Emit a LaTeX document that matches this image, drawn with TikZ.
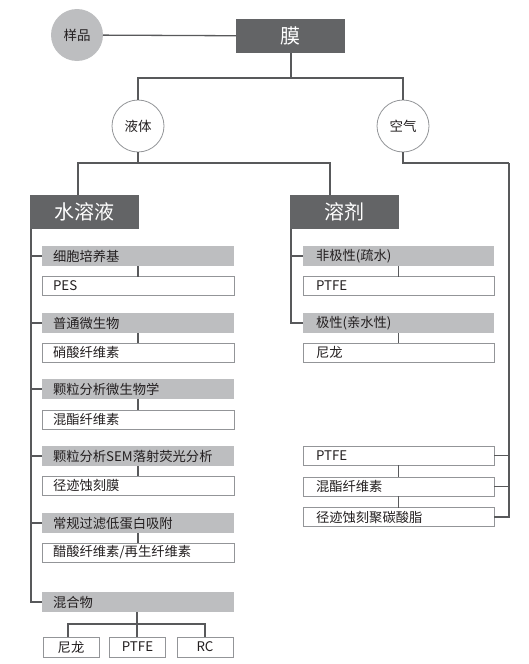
\documentclass[tikz,border=0pt]{standalone}
\usepackage{fontspec}
\setmainfont{Noto Sans CJK SC}
\usetikzlibrary{calc}
\definecolor{darkbox}{HTML}{636466}
\definecolor{bargray}{HTML}{BDBEC0}
\definecolor{linegray}{HTML}{58595B}
\definecolor{bordergray}{HTML}{939598}
\definecolor{textdark}{HTML}{231F20}
\tikzset{
  headbox/.style={fill=darkbox, text=white, minimum width=109pt, minimum height=34pt, inner sep=0pt, outer sep=0pt, anchor=north west, font=\fontsize{20}{20}\selectfont},
  roundnode/.style={circle, minimum size=52pt, inner sep=0pt, outer sep=0pt, font=\fontsize{13.5}{13.5}\selectfont, text=textdark},
  leftbar/.style={fill=bargray, minimum height=20pt, inner ysep=0pt, inner xsep=11pt, text width=170pt, align=left, anchor=north west, outer sep=0pt, text=textdark, font=\fontsize{13.3}{13.3}\selectfont},
  leftbox/.style={leftbar, fill=white, draw=bordergray, line width=0.8pt, minimum height=19pt},
  rightbar/.style={leftbar, inner xsep=13pt, text width=165pt},
  rightbox/.style={rightbar, fill=white, draw=bordergray, line width=0.8pt, minimum height=19pt},
  smallbox/.style={fill=white, draw=bordergray, line width=0.8pt, minimum width=56pt, minimum height=20pt, inner sep=0pt, outer sep=0pt, anchor=north west, text=textdark, font=\fontsize{13.3}{13.3}\selectfont},
  link/.style={draw=linegray, line width=1.3pt},
  trunk/.style={draw=linegray, line width=1.8pt}
}
\begin{document}
\begin{tikzpicture}[x=1pt, y=-1pt]
\useasboundingbox (0,0) rectangle (528,664);
% top
\node[roundnode, fill=bargray] (sample) at (77,35) {样品};
\node[headbox] (mo) at (236,19) {膜};
\node[roundnode, draw=bordergray, line width=0.8pt, fill=white] (liquid) at (138,126) {液体};
\node[roundnode, draw=bordergray, line width=0.8pt, fill=white] (air) at (403,126) {空气};
\node[headbox] (aq) at (30,195) {水溶液};
\node[headbox] (sol) at (290,195) {溶剂};
\coordinate (j1) at (291,78);
\coordinate (j2) at (138,163);
\coordinate (airtr) at (509,163);
% left column
\node[leftbar] (b1) at (42,246) {细胞培养基};
\node[leftbox] (p1) at (42,276.5) {PES};
\node[leftbar] (b2) at (42,313) {普通微生物};
\node[leftbox] (p2) at (42,343) {硝酸纤维素};
\node[leftbar] (b3) at (42,379) {颗粒分析微生物学};
\node[leftbox] (p3) at (42,410) {混酯纤维素};
\node[leftbar] (b4) at (42,446) {颗粒分析SEM落射荧光分析};
\node[leftbox] (p4) at (42,476) {径迹蚀刻膜};
\node[leftbar] (b5) at (42,513) {常规过滤低蛋白吸附};
\node[leftbox] (p5) at (42,543) {醋酸纤维素/再生纤维素};
\node[leftbar] (b6) at (42,592) {混合物};
\node[smallbox] (m1) at (43,637) {尼龙};
\node[smallbox] (m2) at (109.5,637) {PTFE};
\node[smallbox] (m3) at (177,637) {RC};
\coordinate (j3) at (137,624);
% solvent column
\node[rightbar] (s1) at (303,246) {非极性(疏水)};
\node[rightbox] (q1) at (303,276.5) {PTFE};
\node[rightbar] (s2) at (303,313) {极性(亲水性)};
\node[rightbox] (q2) at (303,343) {尼龙};
% air column
\node[rightbox] (a1) at (303,446) {PTFE};
\node[rightbox] (a2) at (303,477) {混酯纤维素};
\node[rightbox] (a3) at (303,507.5) {径迹蚀刻聚碳酸脂};
% connectors top
\draw[link] (sample) -- (mo);
\draw[link] (mo.south -| j1) -- (j1);
\draw[link] (liquid.north) |- (j1) -| (air.north);
\draw[link] (liquid.south) -- (j2);
\draw[link] ([xshift=-6.5pt]aq.north) |- (j2) -| ([xshift=-14.5pt]sol.north);
\draw[link] (air.south) |- (airtr);
\draw[trunk] (airtr) |- (a3.east);
\draw[link] (airtr |- a1.east) -- (a1.east);
\draw[link] (airtr |- a2.east) -- (a2.east);
\draw[link] (a1.south) -- (a2.north);
\draw[link] (a2.south) -- (a3.north);
% left trunk
\draw[trunk] ([xshift=1pt]aq.south west) |- (b6.west);
\draw[link] ([xshift=1pt]aq.south west |- b1.west) -- (b1.west);
\draw[link] ([xshift=1pt]aq.south west |- b2.west) -- (b2.west);
\draw[link] ([xshift=1pt]aq.south west |- b3.west) -- (b3.west);
\draw[link] ([xshift=1pt]aq.south west |- b4.west) -- (b4.west);
\draw[link] ([xshift=1pt]aq.south west |- b5.west) -- (b5.west);
\draw[link] (b1.south) -- (p1.north);
\draw[link] (b2.south) -- (p2.north);
\draw[link] (b3.south) -- (p3.north);
\draw[link] (b4.south) -- (p4.north);
\draw[link] (b5.south) -- (p5.north);
\draw[link] (b6.south -| j3) -- (j3);
\draw[link] ([xshift=-3pt]m1.north) |- (j3) -| (m3.north);
\draw[link] (j3) -- (m2.north -| j3);
% solvent trunk
\draw[trunk] ([xshift=1pt]sol.south west) |- (s2.west);
\draw[link] ([xshift=1pt]sol.south west |- s1.west) -- (s1.west);
\draw[link] (s1.south) -- (q1.north);
\draw[link] (s2.south) -- (q2.north);
\end{tikzpicture}
\end{document}
